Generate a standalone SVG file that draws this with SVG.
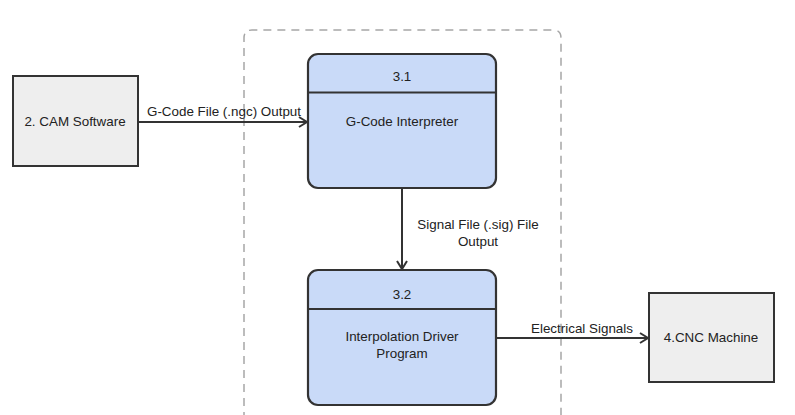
<svg xmlns="http://www.w3.org/2000/svg" width="795" height="415" viewBox="0 0 795 415">
<defs>
<marker id="arr" markerWidth="12" markerHeight="12" refX="9" refY="6" orient="auto" markerUnits="userSpaceOnUse">
<path d="M1,1 L9,6 L1,11" fill="none" stroke="#333" stroke-width="2"/>
</marker>
<style>
text{font-family:"Liberation Sans",Arial,sans-serif;font-size:13.4px;fill:#222;text-anchor:middle;}
.ext{fill:#eeeeee;stroke:#333;stroke-width:2;}
.proc{fill:#c9daf8;stroke:#333;stroke-width:2.2;}
.div{stroke:#333;stroke-width:2;}
.conn{stroke:#333;stroke-width:2;fill:none;marker-end:url(#arr);}
.bound{fill:none;stroke:#a6a6a6;stroke-width:1.5;stroke-dasharray:8,6;}
</style>
</defs>
<rect width="795" height="415" fill="#fff"/>
<g id="boundary">
<path class="bound" d="M244,420 L244,38 Q244,30 252,30 L553,30 Q561,30 561,38 L561,420"/>
</g>
<g id="connectors">
<line class="conn" x1="138" y1="122" x2="307" y2="122"/>
<line class="conn" x1="402" y1="188" x2="402" y2="269"/>
<line class="conn" x1="496" y1="338" x2="648" y2="338"/>
<text x="224" y="116">G-Code File (.ngc) Output</text>
<text x="478" y="229">Signal File (.sig) File</text>
<text x="478" y="246">Output</text>
<text x="582" y="333">Electrical Signals</text>
</g>
<g id="cam">
<rect class="ext" x="13" y="76" width="125" height="90"/>
<text x="75" y="126">2. CAM Software</text>
</g>
<g id="p31">
<rect class="proc" x="308" y="54" width="188" height="134" rx="10"/>
<line class="div" x1="308" y1="92.5" x2="496" y2="92.5"/>
<text x="402" y="81">3.1</text>
<text x="402" y="126">G-Code Interpreter</text>
</g>
<g id="p32">
<rect class="proc" x="308" y="270" width="188" height="135" rx="10"/>
<line class="div" x1="308" y1="309" x2="496" y2="309"/>
<text x="402" y="299">3.2</text>
<text x="402" y="341">Interpolation Driver</text>
<text x="402" y="358">Program</text>
</g>
<g id="cnc">
<rect class="ext" x="649" y="293" width="125" height="89"/>
<text x="711" y="342">4.CNC Machine</text>
</g>
</svg>
